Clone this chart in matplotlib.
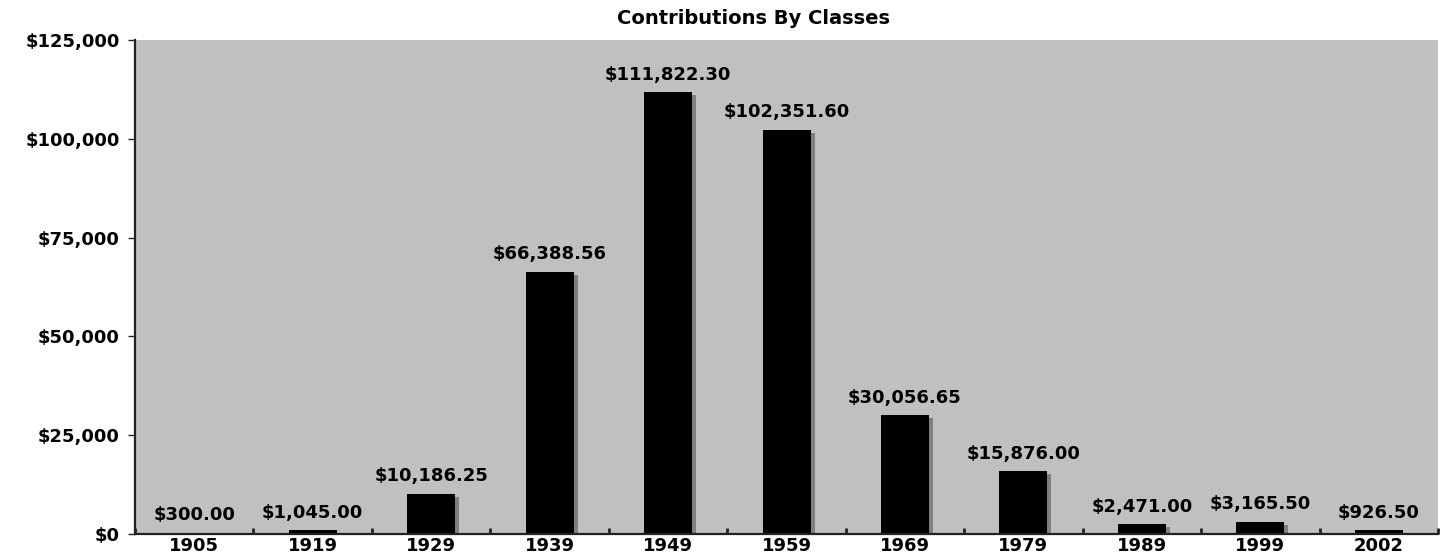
import numpy as np
import matplotlib.pyplot as plt
import matplotlib.patheffects as pe
from matplotlib.ticker import FuncFormatter, FixedLocator

# === Data ===
years = ["1905", "1919", "1929", "1939", "1949", "1959", "1969", "1979", "1989", "1999", "2002"]
amounts = [300.00, 1045.00, 10186.25, 66388.56, 111822.30, 102351.60,
           30056.65, 15876.00, 2471.00, 3165.50, 926.50]

plt.rcParams['font.family'] = 'DejaVu Sans'
plt.rcParams['font.weight'] = 'bold'

fig = plt.figure(figsize=(14.47, 5.58), dpi=100)
ax = fig.add_axes([0.0933, 0.043, 0.9005, 0.885])
ax.set_facecolor('#C0C0C0')

x = np.arange(len(years))
shadow = [pe.SimplePatchShadow(offset=(2.9, -2.2), shadow_rgbFace='#808080', alpha=1.0), pe.Normal()]
bars = ax.bar(x, amounts, width=0.405, color='black', path_effects=shadow, zorder=2)

# value labels above the bars
for xi, v in zip(x, amounts):
    ax.annotate("${:,.2f}".format(v), (xi, v), xytext=(0, 6), textcoords='offset points',
                ha='center', va='bottom', fontsize=13, fontweight='bold', zorder=3)

ax.set_xlim(-0.5, len(years) - 0.5)
ax.set_ylim(0, 125000)
ax.set_yticks(np.arange(0, 125001, 25000))
ax.yaxis.set_major_formatter(FuncFormatter(lambda v, p: "${:,.0f}".format(v)))

ax.set_xticks(x)
ax.set_xticklabels(years)
ax.xaxis.set_minor_locator(FixedLocator(np.arange(-0.5, len(years), 1.0)))
ax.tick_params(axis='x', which='major', length=0, pad=2.5, labelsize=13)
ax.tick_params(axis='x', which='minor', direction='in', length=4, width=2, color='#222222')
ax.tick_params(axis='y', direction='out', length=5, width=1, color='#222222', pad=6, labelsize=13)

for side in ['top', 'right']:
    ax.spines[side].set_visible(False)
for side in ['left', 'bottom']:
    ax.spines[side].set_linewidth(1.6)
    ax.spines[side].set_color('#222222')

fig.text(0.5205, 0.966, "Contributions By Classes", ha='center', va='center',
         fontsize=14, fontweight='bold')

fig.savefig("out.png", dpi=100)
